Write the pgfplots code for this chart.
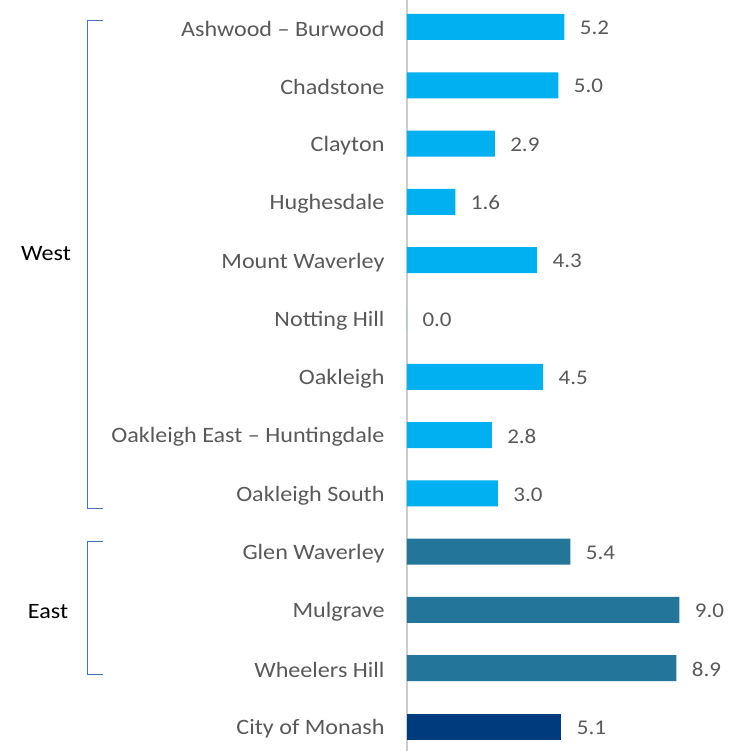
\documentclass[border=0pt]{standalone}
\usepackage{pgfplots}
\pgfplotsset{compat=1.18}
\usepackage{fontspec}
\setmainfont{Carlito}[FakeStretch=1.1]
\definecolor{lblue}{HTML}{00B0F0}
\definecolor{teal2}{HTML}{237599}
\definecolor{navy}{HTML}{003C7D}
\definecolor{txt}{HTML}{595959}
\definecolor{brk}{HTML}{4472C4}
\begin{document}
\begin{tikzpicture}
\begin{axis}[
  scale only axis, width=333bp, height=751bp,
  xbar, bar shift=0pt, bar width=26bp,
  xmin=0, xmax=11.0, ymin=-0.463, ymax=12.42, y dir=reverse,
  axis x line=none, axis y line*=left,
  y axis line style={draw=black!20, line width=1.2pt},
  ytick={0,...,12}, major tick length=0pt,
  yticklabels={Ashwood – Burwood, Chadstone, Clayton, Hughesdale, Mount Waverley, Notting Hill, Oakleigh, Oakleigh East – Huntingdale, Oakleigh South, Glen Waverley, Mulgrave, Wheelers Hill, City of Monash},
  yticklabel style={font=\fontsize{22}{26}\selectfont, text=txt, xshift=-19bp, yshift=-2bp},
  nodes near coords,
  nodes near coords style={font=\fontsize{21}{25}\selectfont, text=txt, xshift=12bp, yshift=-1bp, /pgf/number format/.cd, fixed, fixed zerofill, precision=1, assume math mode=true},
  clip=false,
]
\addplot[fill=lblue, draw=none] coordinates {(5.2,0) (5.0,1) (2.9,2) (1.6,3) (4.3,4) (0.0,5) (4.5,6) (2.8,7) (3.0,8)};
\addplot[fill=teal2, draw=none] coordinates {(5.4,9) (9.0,10) (8.9,11)};
\addplot[fill=navy, draw=none] coordinates {(5.1,12)};
\coordinate (SW) at (rel axis cs:0,0);
\draw[brk, line width=0.8pt] ([xshift=-304bp]axis cs:0,-0.11) -- ([xshift=-320bp]axis cs:0,-0.11) -- ([xshift=-320bp]axis cs:0,8.25) -- ([xshift=-304bp]axis cs:0,8.25);
\draw[brk, line width=0.8pt] ([xshift=-304bp]axis cs:0,8.83) -- ([xshift=-320bp]axis cs:0,8.83) -- ([xshift=-320bp]axis cs:0,11.11) -- ([xshift=-304bp]axis cs:0,11.11);
\node[font=\fontsize{22}{26}\selectfont] at ([xshift=-361bp]axis cs:0,3.88) {West};
\node[font=\fontsize{22}{26}\selectfont] at ([xshift=-359bp]axis cs:0,10.02) {East};
\end{axis}
\pgfresetboundingbox
\path ([xshift=-407bp]SW) rectangle ([xshift=333bp,yshift=751bp]SW);
\end{tikzpicture}
\end{document}
